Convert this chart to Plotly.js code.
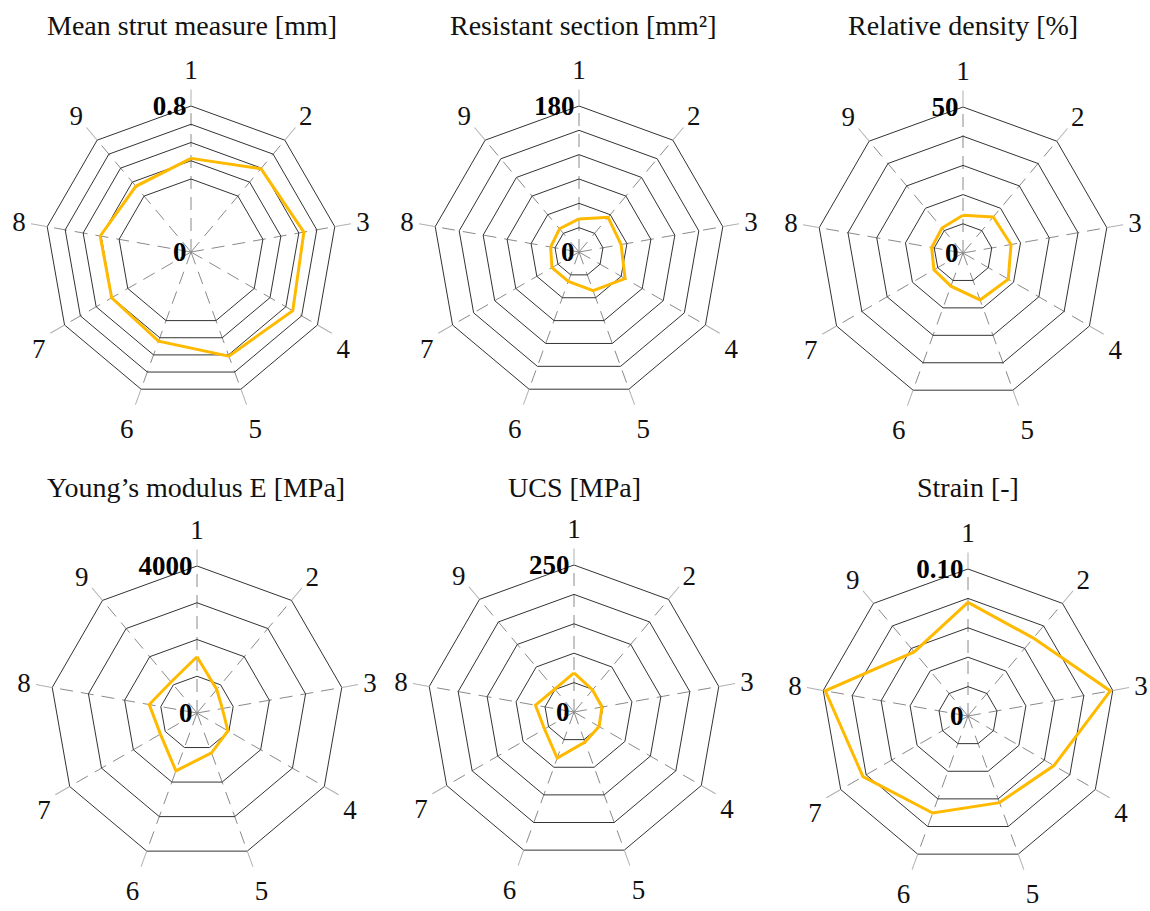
<!DOCTYPE html>
<html>
<head>
<meta charset="utf-8">
<script src="https://cdn.plot.ly/plotly-3.0.1.min.js"></script>
<style>html,body{margin:0;padding:0;background:#fff;}#chart{width:1150px;height:911px;}</style>
</head>
<body>
<div id="chart"></div>
<script>
// ---- data ----
const categories = ['1','2','3','4','5','6','7','8','9'];
const titles = ['Mean strut measure [mm]', 'Resistant section [mm²]', 'Relative density [%]',
                'Young’s modulus E [MPa]', 'UCS [MPa]', 'Strain [-]'];
const strut   = [0.513, 0.596, 0.628, 0.644, 0.607, 0.520, 0.502, 0.505, 0.470];
const section = [40.8, 55.8, 52.7, 65.6, 50.7, 38.5, 38.5, 35.5, 37.4];
const density = [12.9, 16.1, 16.7, 17.9, 17.1, 12.1, 11.5, 10.9, 11.2];
const young   = [1530, 836, 700, 972, 1153, 1676, 1150, 1319, 1100];
const ucs     = [66.5, 49.0, 48.3, 49.2, 54.6, 83.4, 58.0, 66.5, 51.0];
const strain  = [0.0773, 0.0692, 0.0983, 0.0675, 0.0627, 0.0702, 0.0825, 0.0986, 0.0569];

const tickVals1 = [0, 0.4, 0.5, 0.6, 0.7, 0.8];
const tickText1 = ['0', '', '', '', '', '0.8'];
const tickVals2 = [0, 30, 60, 90, 120, 150, 180];
const tickText2 = ['0', '', '', '', '', '', '180'];
const tickVals3 = [0, 10, 20, 30, 40, 50];
const tickText3 = ['0', '', '', '', '', '50'];
const tickVals4 = [0, 1000, 2000, 3000, 4000];
const tickText4 = ['0', '', '', '', '4000'];
const tickVals5 = [0, 50, 100, 150, 200, 250];
const tickText5 = ['0', '', '', '', '', '250'];
const tickVals6 = [0, 0.02, 0.04, 0.06, 0.08, 0.10];
const tickText6 = ['0', '', '', '', '', '0.10'];

const series = [strut, section, density, young, ucs, strain];
const tickVals = [tickVals1, tickVals2, tickVals3, tickVals4, tickVals5, tickVals6];
const tickTexts = [tickText1, tickText2, tickText3, tickText4, tickText5, tickText6];

// ---- layout geometry (pixels) ----
const W = 1150, H = 911;
const centers = [[191, 252, 146], [579, 252, 146], [963, 253, 146],
                 [197, 713, 147], [574, 712, 147], [968, 716, 147]];
const titlePos = [[192, 25], [583, 25], [963, 25], [196, 488], [574, 488], [968, 488]];

const FONT = 'Liberation Serif, Times New Roman, serif';
const traces = [];
const layout = {
  width: W, height: H,
  margin: {l: 0, r: 0, t: 0, b: 0},
  paper_bgcolor: '#ffffff',
  showlegend: false,
  annotations: []
};

series.forEach((vals, i) => {
  const key = i === 0 ? 'polar' : 'polar' + (i + 1);
  traces.push({
    type: 'scatterpolar',
    mode: 'lines',
    r: vals.concat([vals[0]]),
    theta: categories.concat([categories[0]]),
    subplot: key,
    line: {color: '#FFBA00', width: 3},
    hoverinfo: 'skip'
  });
  const [cx, cy, R] = centers[i];
  const tv = tickVals[i];
  layout[key] = {
    domain: {x: [(cx - R) / W, (cx + R) / W], y: [1 - (cy + R) / H, 1 - (cy - R) / H]},
    gridshape: 'linear',
    bgcolor: '#ffffff',
    angularaxis: {
      type: 'category',
      categoryarray: categories,
      direction: 'clockwise',
      rotation: 90,
      showline: true, linecolor: '#333333', linewidth: 1,
      showgrid: true, gridcolor: '#8a8a8a', gridwidth: 1, griddash: '13px,8px',
      ticks: 'outside', ticklen: 16, tickcolor: '#b0b0b0', tickwidth: 1,
      tickfont: {family: FONT, size: 27, color: '#111111'},
      layer: 'below traces'
    },
    radialaxis: {
      range: [0, tv[tv.length - 1]],
      angle: 90,
      side: 'counterclockwise',
      tickangle: 90,
      tickmode: 'array',
      tickvals: tv,
      ticktext: tickTexts[i],
      showline: false,
      ticks: '',
      showgrid: true, gridcolor: '#333333', gridwidth: 1,
      tickfont: {family: FONT, size: 27, color: '#000000', weight: 'bold'},
      layer: 'below traces'
    }
  };
  layout.annotations.push({
    text: titles[i], xref: 'paper', yref: 'paper',
    x: titlePos[i][0] / W, y: 1 - titlePos[i][1] / H,
    xanchor: 'center', yanchor: 'middle', showarrow: false,
    font: {family: FONT, size: 28, color: '#111111'}
  });
});

Plotly.newPlot('chart', traces, layout, {displayModeBar: false, staticPlot: true});
</script>
</body>
</html>
